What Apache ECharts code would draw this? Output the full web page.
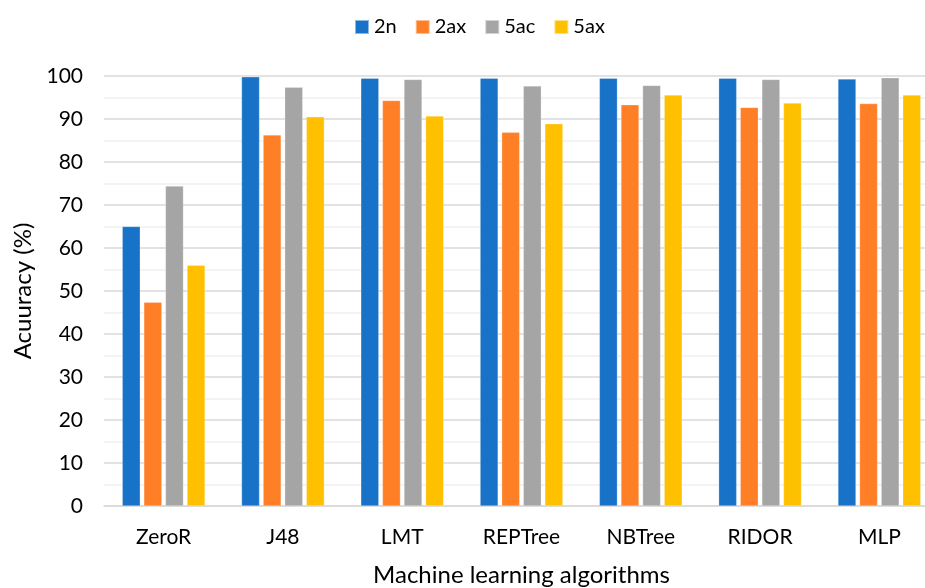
<!DOCTYPE html>
<html><head><meta charset="utf-8">
<script src="https://cdn.jsdelivr.net/npm/echarts@6/dist/echarts.min.js"></script>
<style>html,body{margin:0;padding:0;background:#fff}#c{width:925px;height:588px}</style>
</head><body><div id="c"></div>
<script>
const categories = ['ZeroR','J48','LMT','REPTree','NBTree','RIDOR','MLP'];
const s2n  = [65.0, 99.8, 99.5, 99.5, 99.5, 99.5, 99.3];
const s2ax = [47.4, 86.3, 94.3, 86.9, 93.3, 92.7, 93.6];
const s5ac = [74.4, 97.4, 99.2, 97.7, 97.8, 99.2, 99.6];
const s5ax = [56.0, 90.5, 90.7, 88.9, 95.6, 93.7, 95.6];
const seriesNames = ['2n','2ax','5ac','5ax'];
const colors = ['#1872C8','#FF7F27','#A5A5A5','#FFC000'];
const yTicks = {min:0, max:100, interval:10};

const font = 'Lato, "Noto Sans", sans-serif';
const chart = echarts.init(document.getElementById('c'));
const data = [s2n, s2ax, s5ac, s5ax];
chart.setOption({
  animation:false,
  color: colors,
  textStyle:{fontFamily:font},
  legend:{
    top:12, left:349,
    itemWidth:14, itemHeight:14, itemGap:18,
    icon:'rect',
    textStyle:{fontSize:20, color:'#000', fontFamily:font},
    data: seriesNames
  },
  grid:{left:104, width:835, top:76, bottom:82, containLabel:false, outerBoundsMode:'none'},
  xAxis:{
    type:'category', data:categories,
    axisLine:{lineStyle:{color:'#d9d9d9', width:1.5}},
    axisTick:{show:false},
    axisLabel:{fontSize:21, color:'#000', margin:21, fontFamily:font},
    name:'Machine learning algorithms', nameLocation:'middle', nameGap:57,
    nameTextStyle:{fontSize:24, color:'#000', fontFamily:font}
  },
  yAxis:{
    type:'value', min:yTicks.min, max:yTicks.max, interval:yTicks.interval,
    axisLine:{show:false}, axisTick:{show:false},
    axisLabel:{fontSize:21, color:'#000', margin:21, fontFamily:font},
    splitLine:{lineStyle:{color:'#d9d9d9', width:1.5}},
    minorTick:{show:false, splitNumber:2},
    minorSplitLine:{show:true, lineStyle:{color:'#f0f0f0', width:1.5}},
    name:'Acuuracy (%)', nameLocation:'middle', nameGap:68, nameRotate:90,
    nameTextStyle:{fontSize:24, color:'#000', fontFamily:font}
  },
  series: seriesNames.map((n,i)=>({
    name:n, type:'bar', data:data[i],
    barWidth:18, barGap:'20%',
    itemStyle:{color:colors[i], borderColor:'rgba(255,255,255,0.5)', borderWidth:0.5}
  }))
});
</script></body></html>
